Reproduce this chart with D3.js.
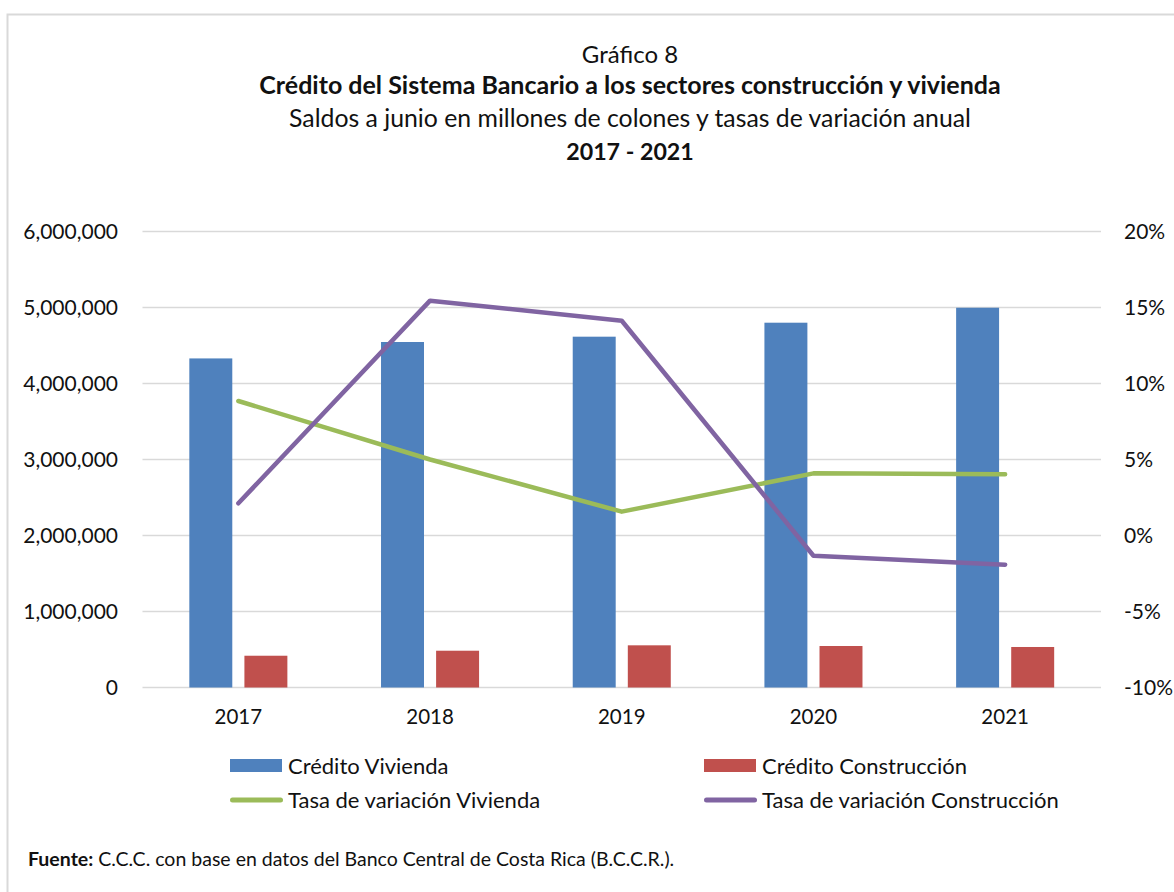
<!DOCTYPE html>
<html>
<head>
<meta charset="utf-8">
<script src="https://cdn.jsdelivr.net/npm/d3@7"></script>
<style>
  body { margin: 0; background: #fff; }
  svg text { font-family: Lato, "Open Sans", sans-serif; fill: #111; }
</style>
</head>
<body>
<svg id="chart" width="1174" height="892"></svg>
<script>
// data
const years = ["2017", "2018", "2019", "2020", "2021"];
const creditoVivienda = [4330000, 4546000, 4616000, 4800000, 4997000];
const creditoConstruccion = [418000, 484000, 555000, 546000, 533000];
const tasaVivienda = [8.85, 5.0, 1.57, 4.09, 4.03];
const tasaConstruccion = [2.12, 15.45, 14.13, -1.33, -1.92];
const leftTicks = [0, 1000000, 2000000, 3000000, 4000000, 5000000, 6000000];
const rightTicks = [-10, -5, 0, 5, 10, 15, 20];

const colors = {
    viv: "#4F81BD",
    con: "#C0504D",
    tasaViv: "#9BBB59",
    tasaCon: "#8064A2",
    grid: "#D9D9D9"
};

const svg = d3.select("#chart");

// frame of the chart area
svg.append("path")
    .attr("d", "M7.5,900 V14.5 H1180")
    .attr("fill", "none")
    .attr("stroke", colors.grid)
    .attr("stroke-width", 2);

// titles
const titles = [
    { text: "Gráfico 8", y: 63, weight: "normal", size: 24 },
    { text: "Crédito del Sistema Bancario a los sectores construcción y vivienda", y: 94, weight: "bold", size: 25 },
    { text: "Saldos a junio en millones de colones y tasas de variación anual", y: 127, weight: "normal", size: 24.8 },
    { text: "2017 - 2021", y: 160, weight: "bold", size: 23.2 }
];
svg.selectAll("text.title")
    .data(titles)
    .join("text")
    .attr("class", "title")
    .attr("x", 630)
    .attr("y", d => d.y)
    .attr("text-anchor", "middle")
    .style("font-size", d => d.size + "px")
    .style("font-weight", d => d.weight)
    .text(d => d.text);

// scales
const x0 = d3.scaleBand().domain(years).range([142.5, 1101]);
const x1 = d3.scaleBand().domain(["viv", "con"])
    .range([0, x0.bandwidth()])
    .paddingInner(0.22)
    .paddingOuter(0.85);
const yLeft = d3.scaleLinear().domain([0, 6000000]).range([687.5, 231.5]);
const yRight = d3.scaleLinear().domain([-10, 20]).range([687.5, 231.5]);

// gridlines
svg.append("g")
    .selectAll("line")
    .data(leftTicks)
    .join("line")
    .attr("x1", 142.5)
    .attr("x2", 1101)
    .attr("y1", d => yLeft(d))
    .attr("y2", d => yLeft(d))
    .attr("stroke", colors.grid)
    .attr("stroke-width", 1.5);

// axes (labels only, Excel style)
const fmt = d3.format(",");
const leftAxis = svg.append("g")
    .attr("transform", "translate(131,0)")
    .call(d3.axisLeft(yLeft).tickValues(leftTicks).tickFormat(fmt).tickSize(0).tickPadding(13));
const rightAxis = svg.append("g")
    .attr("transform", "translate(1112,0)")
    .call(d3.axisRight(yRight).tickValues(rightTicks).tickFormat(d => d + "%").tickSize(0).tickPadding(12));
const bottomAxis = svg.append("g")
    .attr("transform", "translate(0,700)")
    .call(d3.axisBottom(x0).tickSize(0).tickPadding(9));

[leftAxis, rightAxis, bottomAxis].forEach(axis => {
    axis.select(".domain").remove();
    axis.selectAll("text")
        .style("font-size", "21px")
        .style("font-family", "Lato, 'Open Sans', sans-serif")
        .attr("fill", "#111");
});
bottomAxis.selectAll("text").style("font-size", "20.5px");

// bars
const barRows = years.map((year, i) => ({
    year: year,
    values: [
        { key: "viv", value: creditoVivienda[i] },
        { key: "con", value: creditoConstruccion[i] }
    ]
}));

svg.append("g")
    .selectAll("g")
    .data(barRows)
    .join("g")
    .attr("transform", d => `translate(${x0(d.year)},0)`)
    .selectAll("rect")
    .data(d => d.values)
    .join("rect")
    .attr("x", d => x1(d.key))
    .attr("width", x1.bandwidth())
    .attr("y", d => yLeft(d.value))
    .attr("height", d => yLeft(0) - yLeft(d.value))
    .attr("fill", d => colors[d.key]);

// rate lines
const line = d3.line()
    .x((d, i) => x0(years[i]) + x0.bandwidth() / 2)
    .y(d => yRight(d));

const lineSeries = [
    { key: "tasaViv", values: tasaVivienda },
    { key: "tasaCon", values: tasaConstruccion }
];

svg.append("g")
    .selectAll("path")
    .data(lineSeries)
    .join("path")
    .attr("d", d => line(d.values))
    .attr("fill", "none")
    .attr("stroke", d => colors[d.key])
    .attr("stroke-width", 4.5)
    .attr("stroke-linecap", "round")
    .attr("stroke-linejoin", "round");

// legend
const legendItems = [
    { label: "Crédito Vivienda", key: "viv", type: "bar", x: 230, y: 766 },
    { label: "Crédito Construcción", key: "con", type: "bar", x: 704, y: 766 },
    { label: "Tasa de variación Vivienda", key: "tasaViv", type: "line", x: 230, y: 800 },
    { label: "Tasa de variación Construcción", key: "tasaCon", type: "line", x: 704, y: 800 }
];

const legend = svg.append("g")
    .selectAll("g")
    .data(legendItems)
    .join("g")
    .attr("transform", d => `translate(${d.x},${d.y})`);

legend.filter(d => d.type === "bar")
    .append("rect")
    .attr("x", 0)
    .attr("y", -7)
    .attr("width", 52)
    .attr("height", 13)
    .attr("fill", d => colors[d.key]);

legend.filter(d => d.type === "line")
    .append("line")
    .attr("x1", 2.5)
    .attr("x2", 50.5)
    .attr("stroke", d => colors[d.key])
    .attr("stroke-width", 5)
    .attr("stroke-linecap", "round");

legend.append("text")
    .attr("x", 58)
    .attr("y", 8)
    .style("font-size", "22px")
    .text(d => d.label);

// source note
const note = svg.append("text")
    .attr("x", 28)
    .attr("y", 866)
    .style("font-size", "19.5px");
note.append("tspan").style("font-weight", "bold").text("Fuente:");
note.append("tspan").text(" C.C.C. con base en datos del Banco Central de Costa Rica (B.C.C.R.).");
</script>
</body>
</html>
